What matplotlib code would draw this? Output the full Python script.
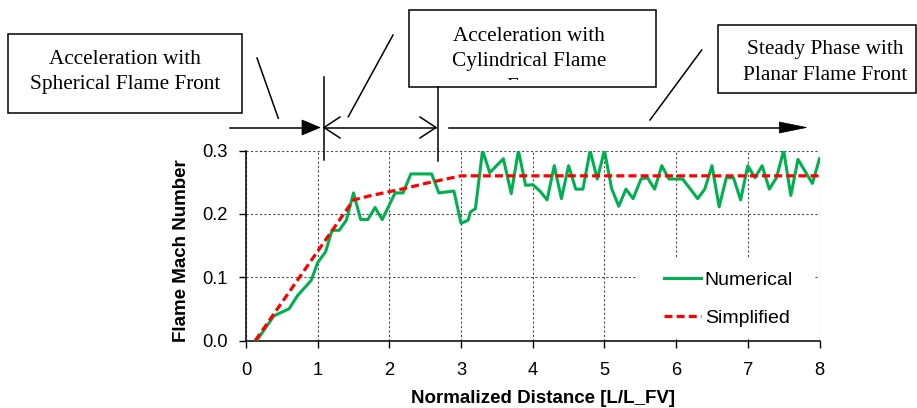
import matplotlib
matplotlib.use("Agg")
import matplotlib.pyplot as plt
from matplotlib.patches import Rectangle, Polygon
from matplotlib.ticker import FormatStrFormatter

plt.rcParams['font.family'] = 'Liberation Sans'

# flame Mach number from the simulation
num_x = [0.15, 0.39, 0.60, 0.72, 0.91, 1.00, 1.11, 1.20, 1.30, 1.40,
         1.50, 1.60, 1.70, 1.80, 1.90, 2.08, 2.19, 2.30, 2.59, 2.69,
         2.90, 3.00, 3.10, 3.13, 3.20, 3.30, 3.40, 3.59, 3.70, 3.80,
         3.90, 4.00, 4.10, 4.20, 4.30, 4.40, 4.50, 4.60, 4.70, 4.80,
         4.90, 5.00, 5.10, 5.20, 5.30, 5.40, 5.51, 5.60, 5.70, 5.80,
         5.90, 6.09, 6.20, 6.30, 6.40, 6.50, 6.60, 6.70, 6.80, 6.90,
         7.00, 7.10, 7.20, 7.30, 7.40, 7.50, 7.60, 7.70, 7.80, 7.90, 8.00]
num_y = [0.000, 0.039, 0.050, 0.071, 0.095, 0.123, 0.140, 0.174, 0.174, 0.190,
         0.233, 0.191, 0.191, 0.210, 0.191, 0.233, 0.233, 0.263, 0.263, 0.233,
         0.236, 0.185, 0.190, 0.203, 0.208, 0.300, 0.265, 0.287, 0.232, 0.300,
         0.245, 0.246, 0.236, 0.222, 0.276, 0.224, 0.276, 0.239, 0.239, 0.300,
         0.255, 0.300, 0.240, 0.212, 0.239, 0.224, 0.255, 0.257, 0.239, 0.276,
         0.255, 0.255, 0.239, 0.224, 0.239, 0.276, 0.211, 0.257, 0.257, 0.222,
         0.276, 0.257, 0.276, 0.239, 0.257, 0.300, 0.229, 0.286, 0.267, 0.248, 0.287]

# simplified model
simp_x = [0.13, 1.50, 1.75, 2.00, 2.25, 2.50, 2.75, 3.00, 8.00]
simp_y = [0.000, 0.222, 0.229, 0.235, 0.241, 0.248, 0.254, 0.260, 0.260]

x_ticks = [0, 1, 2, 3, 4, 5, 6, 7, 8]
y_ticks = [0.0, 0.1, 0.2, 0.3]

W, H = 917, 408


def fx(px):
    return px / W


def fy(py):
    return 1 - py / H


fig = plt.figure(figsize=(W / 100, H / 100), dpi=100)

ax = fig.add_axes([fx(246), fy(340.5), (819.5 - 246) / W, (340.5 - 150.5) / H])
ax.plot(num_x, num_y, color='#00B050', lw=2.2, label='Numerical', zorder=3)
ax.plot(simp_x, simp_y, color='#FF0000', lw=2.3, dashes=(2.5, 1.3),
        label='Simplified', zorder=4)
ax.set_xlim(0, 8)
ax.set_ylim(0, 0.3)
ax.set_xticks(x_ticks)
ax.set_yticks(y_ticks)
ax.yaxis.set_major_formatter(FormatStrFormatter('%.1f'))
ax.tick_params(labelsize=13.2, width=1, color='black')
ax.tick_params(axis='x', length=5, pad=10.5)
ax.tick_params(axis='y', length=5, pad=8)
ax.grid(True, color='0.3', linestyle=(0, (2, 2)), linewidth=0.8)
for side in ('top', 'right'):
    ax.spines[side].set_visible(False)
for side in ('left', 'bottom'):
    ax.spines[side].set_linewidth(1.1)

ax.set_xlabel('Normalized Distance [L/L_FV]', fontsize=13.5, fontweight='bold')
ax.xaxis.set_label_coords((543 - 246) / 573.5, -0.258)
ax.set_ylabel('Flame Mach Number', fontsize=13.5, fontweight='bold')
ax.yaxis.set_label_coords(-0.097, 0.474)

# white area behind the legend hides the grid
ax.add_patch(Rectangle((fx(637), fy(338)), (815 - 637) / W, (338 - 258) / H,
                       transform=fig.transFigure, facecolor='white',
                       edgecolor='none', zorder=1.8))
ax.set_xlim(0, 8)
ax.set_ylim(0, 0.3)
ax.legend(loc='upper left', bbox_to_anchor=(fx(664), fy(271.5)),
          bbox_transform=fig.transFigure, frameon=False, fontsize=14,
          handlelength=1.9, handletextpad=0.2, labelspacing=1.05,
          borderpad=0, borderaxespad=0)

# phase annotations drawn in pixel coordinates
ov = fig.add_axes([0, 0, 1, 1])
ov.set_xlim(0, W)
ov.set_ylim(H, 0)
ov.axis('off')

lw = 1.1
serif = dict(family='Liberation Serif', fontsize=15.3, ha='center', va='baseline')

ov.add_patch(Rectangle((8.3, 34), 233.4, 78.7, fill=False, ec='black', lw=lw))
ov.text(124.7, 64, 'Acceleration with', **serif)
ov.text(124.7, 89.3, 'Spherical Flame Front', **serif)

ov.add_patch(Rectangle((409.3, 10), 246.7, 77.3, fill=False, ec='black', lw=lw))
ov.text(529.3, 40.7, 'Acceleration with', **serif)
ov.text(529.3, 65.7, 'Cylindrical Flame', **serif)
# third line runs past the box and is cut off
clip = Rectangle((409.3, 10), 246.7, 70.0, transform=ov.transData)
t = ov.text(529.3, 91.5, 'Front', **serif)
t.set_clip_path(clip)
t.set_clip_on(True)

ov.add_patch(Rectangle((718.3, 25), 197.2, 68.3, fill=False, ec='black', lw=lw))
ov.text(825, 54.3, 'Steady Phase with', **serif)
ov.text(825, 80, 'Planar Flame Front', **serif)

# leader lines
ov.plot([257, 278.3], [58, 118.3], color='black', lw=lw)
ov.plot([393, 348.3], [35, 116.7], color='black', lw=lw)
ov.plot([701.7, 650], [50, 120], color='black', lw=lw)

# phase boundaries
ov.plot([324, 324], [77, 159.5], color='black', lw=lw)
ov.plot([437.5, 437.5], [87.3, 160.5], color='black', lw=lw)

# spherical phase arrow
ya = 127.5
ov.plot([230, 304], [ya, ya], color='black', lw=lw)
ov.add_patch(Polygon([(302, 120), (320, ya), (302, 135)], closed=True,
                     fc='black', ec='black', lw=0.5))

# cylindrical phase double arrow
ov.plot([324, 436], [ya, ya], color='black', lw=lw)
ov.plot([340, 324, 340], [117, ya, 138], color='black', lw=lw)
ov.plot([420, 436, 420], [117, ya, 138], color='black', lw=lw)

# planar phase arrow
ov.plot([449.3, 781], [ya, ya], color='black', lw=lw)
ov.add_patch(Polygon([(779.3, 122), (806.5, ya), (779.3, 133)], closed=True,
                     fc='black', ec='black', lw=0.5))

fig.savefig('out.png', dpi=100)
